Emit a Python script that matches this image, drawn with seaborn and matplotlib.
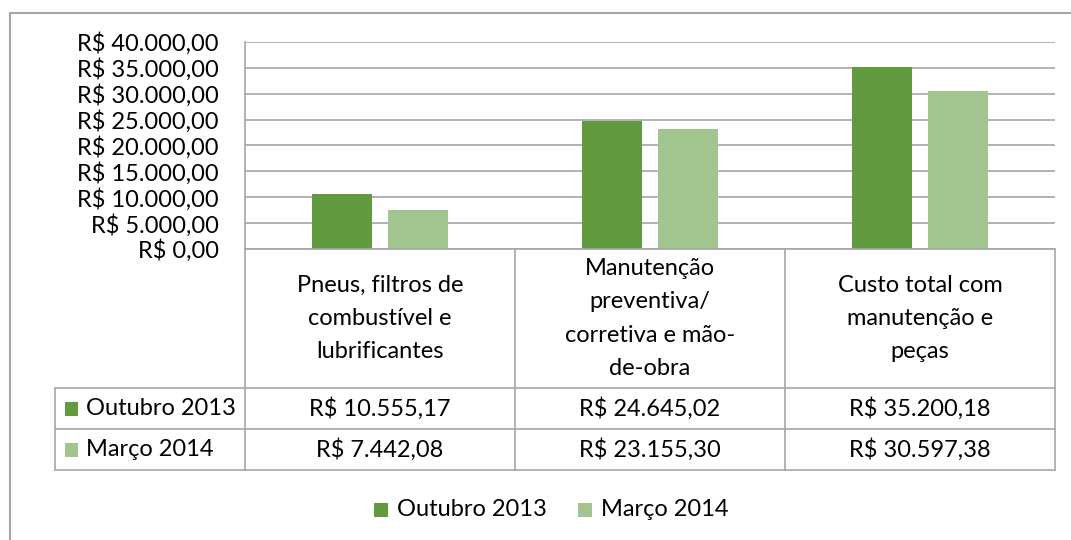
import matplotlib
matplotlib.use("Agg")
import matplotlib.pyplot as plt
import seaborn as sns
import pandas as pd
from matplotlib.lines import Line2D
from matplotlib.patches import Rectangle

categories = ["Pneus, filtros de\ncombustível e\nlubrificantes",
              "Manutenção\npreventiva/\ncorretiva e mão-\nde-obra",
              "Custo total com\nmanutenção e\npeças"]
series_names = ["Outubro 2013", "Março 2014"]
outubro_2013 = [10555.17, 24645.02, 35200.18]
marco_2014 = [7442.08, 23155.30, 30597.38]
yticks = [0, 5000, 10000, 15000, 20000, 25000, 30000, 35000, 40000]
colors = ["#629A3F", "#A2C590"]

def brl(v):
    s = f"{v:,.2f}"
    s = s.replace(",", "X").replace(".", ",").replace("X", ".")
    return "R$ " + s

W, H = 1071, 540
sns.set_theme(style="white")
plt.rcParams['font.family'] = ['Lato', 'DejaVu Sans']
FS = 17

fig = plt.figure(figsize=(W / 100, H / 100), dpi=100)
fig.patch.set_facecolor("white")

def fx(x):
    return x / W

def fy(y):
    return 1 - y / H

ax = fig.add_axes([fx(245), fy(249), fx(1055) - fx(245), fy(42) - fy(249)])

df = pd.DataFrame({
    "cat": list(range(3)) * 2,
    "serie": [series_names[0]] * 3 + [series_names[1]] * 3,
    "valor": outubro_2013 + marco_2014,
})
df["catname"] = [categories[i] for i in df["cat"]]
sns.barplot(data=df, x="catname", y="valor", hue="serie", order=categories,
            hue_order=series_names, palette=colors, width=0.57, gap=0.22,
            ax=ax, legend=False, saturation=1, linewidth=0)

ax.set_xlim(-0.5, 2.5)
ax.set_ylim(0, 40000)
ax.set_yticks(yticks)
ax.set_yticklabels([brl(v) for v in yticks], fontsize=FS, color="black")
ax.tick_params(axis="y", length=0, pad=19)
ax.set_xticks([])
ax.set_xlabel("")
ax.set_ylabel("")
ax.yaxis.grid(True, color="#A6A6A6", linewidth=1.2)
ax.set_axisbelow(True)
for s in ["top", "right", "bottom"]:
    ax.spines[s].set_visible(False)
ax.spines["left"].set_color("#A6A6A6")
ax.spines["left"].set_linewidth(1.2)

LC = "#A6A6A6"

def hline(y, x0, x1, lw=1.2, c=LC):
    fig.add_artist(Line2D([fx(x0), fx(x1)], [fy(y), fy(y)], color=c, lw=lw,
                          transform=fig.transFigure))

def vline(x, y0, y1, lw=1.2, c=LC):
    fig.add_artist(Line2D([fx(x), fx(x)], [fy(y0), fy(y1)], color=c, lw=lw,
                          transform=fig.transFigure))

# outer border
hline(13, 10, W, lw=1.5)
vline(10, 13, H, lw=1.5)

# data table
col_edges = [245, 515, 785, 1055]
row_edges = [249, 388, 429, 470]
hline(249, 245, 1055)
for y in row_edges[1:]:
    hline(y, 55, 1055)
vline(55, 388, 470)
vline(245, 249, 470)
for x in col_edges[1:]:
    vline(x, 249, 470)

for i, cat in enumerate(categories):
    cx = (col_edges[i] + col_edges[i + 1]) / 2
    fig.text(fx(cx), fy((249 + 388) / 2), cat, ha="center", va="center",
             fontsize=FS, linespacing=1.72, color="black")
    fig.text(fx(cx), fy(408.5), brl(outubro_2013[i]), ha="center", va="center",
             fontsize=FS, color="black")
    fig.text(fx(cx), fy(449.5), brl(marco_2014[i]), ha="center", va="center",
             fontsize=FS, color="black")

for j, (name, yc) in enumerate(zip(series_names, [408.5, 449.5])):
    fig.add_artist(Rectangle((fx(65), fy(yc + 7)), fx(13), fy(0) - fy(14),
                             color=colors[j], transform=fig.transFigure, lw=0))
    fig.text(fx(86), fy(yc), name, ha="left", va="center", fontsize=FS, color="black")

# bottom legend
leg_items = [(374, 397), (578, 601)]
for j, (sx, tx) in enumerate(leg_items):
    fig.add_artist(Rectangle((fx(sx), fy(517)), fx(14), fy(0) - fy(14),
                             color=colors[j], transform=fig.transFigure, lw=0))
    fig.text(fx(tx), fy(510), series_names[j], ha="left", va="center",
             fontsize=FS, color="black")

fig.savefig("out.png", dpi=100, facecolor="white")
